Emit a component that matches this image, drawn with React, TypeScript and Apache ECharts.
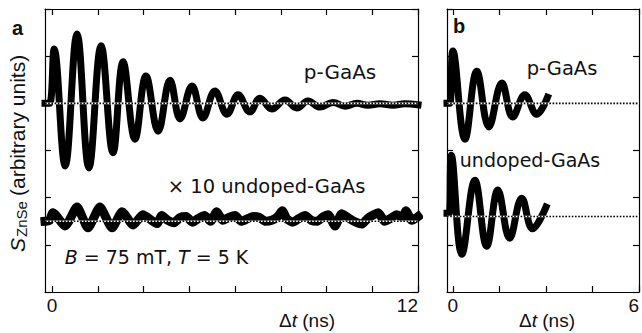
import React, { useEffect, useRef } from "react";
import * as echarts from "echarts";

// ---------- data (t in ns, S in arbitrary units) ----------
// panel a
const pGaAsA: number[][] = [
  [-0.23, 4.0], [-0.08, 4.0], [0.07, 5.15], [0.43, 2.67], [0.82, 5.47], [1.21, 2.63],
  [1.61, 5.22], [2.0, 2.95], [2.33, 4.88], [2.72, 3.24], [3.08, 4.58], [3.48, 3.41],
  [3.87, 4.49], [4.2, 3.67], [4.59, 4.37], [4.95, 3.69], [5.34, 4.26], [5.74, 3.77],
  [6.1, 4.18], [6.49, 3.82], [6.82, 4.11], [7.21, 3.88], [7.64, 4.07], [8.03, 3.9],
  [8.39, 4.05], [8.79, 3.92], [9.21, 4.02], [9.61, 3.94], [10.0, 4.0], [10.36, 3.96],
  [10.75, 3.99], [11.18, 3.96], [11.57, 3.99], [12.0, 3.97],
];
const undopedA: number[][] = [
  [-0.23, 1.5], [-0.08, 1.52], [0.03, 1.68], [0.43, 1.4], [0.82, 1.8], [1.18, 1.36],
  [1.57, 1.8], [1.97, 1.36], [2.3, 1.7], [2.66, 1.42], [2.98, 1.64], [3.44, 1.45],
  [3.6, 1.62], [3.8, 1.52], [4.0, 1.47], [4.2, 1.58], [4.4, 1.6], [4.6, 1.48],
  [4.8, 1.56], [5.0, 1.62], [5.2, 1.5], [5.4, 1.7], [5.6, 1.52], [5.8, 1.58],
  [6.0, 1.62], [6.2, 1.5], [6.4, 1.55], [6.6, 1.6], [6.8, 1.58], [7.0, 1.5],
  [7.2, 1.52], [7.4, 1.6], [7.55, 1.72], [7.7, 1.55], [7.9, 1.48], [8.1, 1.56],
  [8.3, 1.62], [8.5, 1.52], [8.7, 1.5], [8.9, 1.6], [9.05, 1.64], [9.28, 1.4],
  [9.5, 1.66], [9.7, 1.58], [9.9, 1.5], [10.16, 1.44], [10.35, 1.56], [10.5, 1.62],
  [10.7, 1.68], [10.9, 1.5], [11.1, 1.56], [11.3, 1.64], [11.5, 1.58], [11.6, 1.72],
  [11.8, 1.52], [12.0, 1.6],
];
// panel b
const pGaAsB: number[][] = [
  [-0.19, 4.0], [-0.1, 4.0], [0.0, 5.11], [0.39, 3.24], [0.77, 4.68], [1.16, 3.5],
  [1.58, 4.43], [1.93, 3.71], [2.32, 4.18], [2.7, 3.77], [3.05, 4.13],
];
const undopedB: number[][] = [
  [-0.19, 1.67], [-0.12, 1.67], [-0.05, 2.9], [0.29, 0.8], [0.71, 2.37], [1.09, 0.97],
  [1.45, 2.16], [1.83, 1.14], [2.22, 1.99], [2.57, 1.34], [3.0, 1.8],
];

const baselinesA = [4, 1.5];
const baselinesB = [4, 1.6];
const xRangeA = [-0.23, 12];
const xRangeB = [-0.19, 6];
const xTicksA = [0, 1.5, 3, 4.5, 6, 7.5, 9, 10.5, 12];
const xLabelsA = [0, 12];
const xTicksB = [0, 1.5, 3, 4.5, 6];
const xLabelsB = [0, 6];
const yRange = [0, 6];

const TXT = "DejaVu Sans";
const AX = "Liberation Sans";
const INK = "#111";

export default function App() {
  const ref = useRef<HTMLDivElement>(null);

  useEffect(() => {
    if (!ref.current) return;
    const chart = echarts.init(ref.current, null, { renderer: "svg" });

    const line = { show: true, onZero: false, lineStyle: { color: "#000", width: 1.2 } };
    const tick = (vals?: number[]) => ({
      show: true,
      inside: true,
      length: 6,
      lineStyle: { color: "#000", width: 1.2 },
      ...(vals ? { customValues: vals } : {}),
    });

    const xAxis: any[] = [];
    const yAxis: any[] = [];
    const mkX = (grid: number, range: number[], ticks: number[], labels: number[] | null, pos: string) => ({
      type: "value",
      gridIndex: grid,
      position: pos,
      min: range[0],
      max: range[1],
      axisLine: line,
      axisTick: tick(ticks),
      splitLine: { show: false },
      axisLabel: labels
        ? {
            show: true,
            customValues: labels,
            fontFamily: AX,
            fontSize: 19,
            color: INK,
            margin: 4,
            alignMaxLabel: "right",
          }
        : { show: false },
    });
    const mkY = (grid: number, pos: string) => ({
      type: "value",
      gridIndex: grid,
      position: pos,
      min: yRange[0],
      max: yRange[1],
      interval: 1,
      axisLine: line,
      axisTick: tick(),
      splitLine: { show: false },
      axisLabel: { show: false },
    });
    xAxis.push(mkX(0, xRangeA, xTicksA, xLabelsA, "bottom"));
    xAxis.push(mkX(0, xRangeA, xTicksA, null, "top"));
    xAxis.push(mkX(1, xRangeB, xTicksB, xLabelsB, "bottom"));
    xAxis.push(mkX(1, xRangeB, xTicksB, null, "top"));
    yAxis.push(mkY(0, "left"));
    yAxis.push(mkY(0, "right"));
    yAxis.push(mkY(1, "left"));
    yAxis.push(mkY(1, "right"));

    const dataSeries = (data: number[][], xi: number, yi: number, smooth: number, w: number) => ({
      type: "line",
      xAxisIndex: xi,
      yAxisIndex: yi,
      data,
      smooth,
      showSymbol: false,
      lineStyle: { color: "#000", width: w, cap: "square", join: "round" },
      z: 2,
    });
    const dotted = (base: number, range: number[], xi: number, yi: number) => [
      {
        type: "line",
        xAxisIndex: xi,
        yAxisIndex: yi,
        data: [[range[0], base], [range[1], base]],
        showSymbol: false,
        lineStyle: { color: "#fff", width: 1.6 },
        z: 3,
      },
      {
        type: "line",
        xAxisIndex: xi,
        yAxisIndex: yi,
        data: [[range[0], base], [range[1], base]],
        showSymbol: false,
        lineStyle: { color: "#000", width: 1.6, type: [1.6, 1.6] },
        z: 4,
      },
    ];

    const series: any[] = [
      dataSeries(pGaAsA, 0, 0, 0.4, 7),
      dataSeries(undopedA, 0, 0, 0.2, 9),
      dataSeries(pGaAsB, 2, 2, 0.4, 7),
      dataSeries(undopedB, 2, 2, 0.4, 7),
      ...dotted(baselinesA[0], xRangeA, 0, 0),
      ...dotted(baselinesA[1], xRangeA, 0, 0),
      ...dotted(baselinesB[0], xRangeB, 2, 2),
      ...dotted(baselinesB[1], xRangeB, 2, 2),
    ];

    const txt = (text: string, x: number, y: number, size: number, extra: any = {}, align = "center") => ({
      type: "text",
      x,
      y,
      z: 10,
      style: {
        text,
        fontFamily: TXT,
        fontSize: size,
        fill: INK,
        align,
        verticalAlign: "middle",
        ...extra,
      },
    });
    const it = (size: number, fam = TXT) => ({ fontStyle: "italic", fontSize: size, fontFamily: fam, fill: INK });
    const nm = (size: number, fam = TXT) => ({ fontSize: size, fontFamily: fam, fill: INK });

    const graphic: any[] = [
      txt("a", 17.5, 28, 20, { fontWeight: "bold", fontFamily: AX }),
      txt("b", 459, 26, 20, { fontWeight: "bold", fontFamily: AX }),
      txt("p-GaAs", 340, 71.5, 20),
      txt("× 10 undoped-GaAs", 266.5, 186, 19.5),
      txt("{i|B}{n| = 75 mT, }{i|T}{n| = 5 K}", 156.5, 257, 19, {
        rich: { i: it(19), n: nm(19) },
      }),
      txt("p-GaAs", 562, 68, 19.5),
      txt("undoped-GaAs", 530, 160, 19),
      txt("{n|Δ}{i|t}{n| (ns)}", 307, 320, 19, { rich: { i: it(19, AX), n: nm(19, AX) } }),
      txt("{n|Δ}{i|t}{n| (ns)}", 547, 320, 19, { rich: { i: it(19, AX), n: nm(19, AX) } }),
      // rotated y-axis title
      {
        type: "text", x: 17.5, y: 252, rotation: Math.PI / 2, z: 10,
        style: { text: "S", fontFamily: AX, fontStyle: "italic", fontSize: 21, fill: INK, align: "left", verticalAlign: "middle" },
      },
      {
        type: "text", x: 21.5, y: 237, rotation: Math.PI / 2, z: 10,
        style: { text: "ZnSe", fontFamily: AX, fontSize: 15, fill: INK, align: "left", verticalAlign: "middle" },
      },
      {
        type: "text", x: 17.5, y: 196, rotation: Math.PI / 2, z: 10,
        style: { text: "(arbitrary units)", fontFamily: AX, fontSize: 21, fill: INK, align: "left", verticalAlign: "middle" },
      },
    ];

    chart.setOption({
      animation: false,
      backgroundColor: "#fff",
      grid: [
        { left: 45, top: 9, width: 373, height: 283 },
        { left: 447, top: 9, width: 194, height: 283 },
      ],
      xAxis,
      yAxis,
      series,
      graphic,
    });

    return () => chart.dispose();
  }, []);

  return (
    <div
      ref={ref}
      style={{ position: "fixed", left: 0, top: 0, width: 642, height: 333, background: "#fff" }}
    />
  );
}
